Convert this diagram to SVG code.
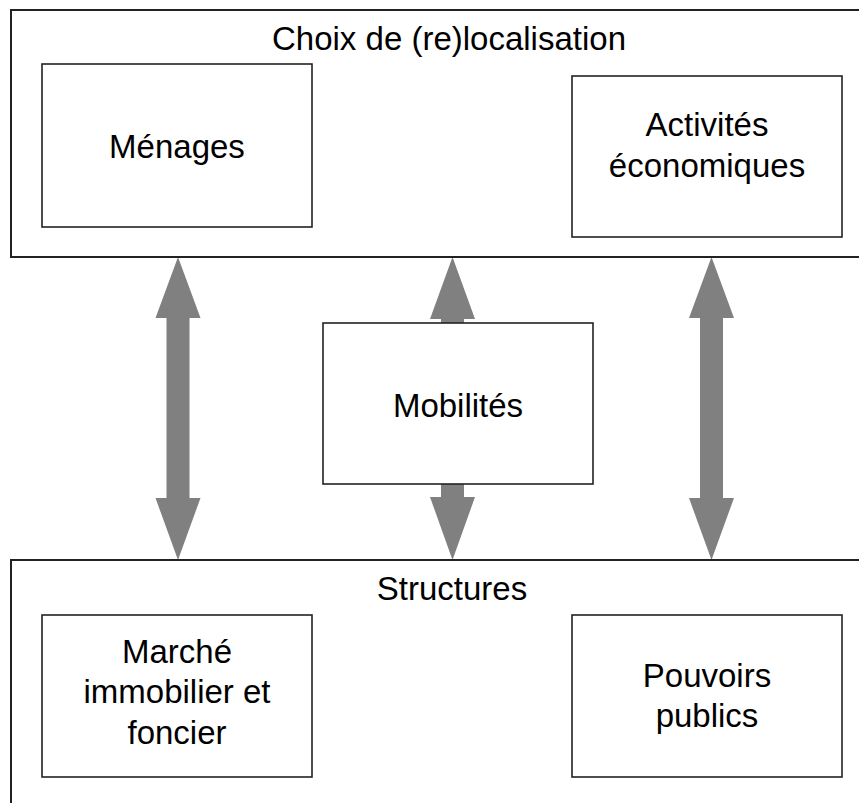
<svg xmlns="http://www.w3.org/2000/svg" width="859" height="803" viewBox="0 0 859 803">
<style>
.bg{fill:#fff}
.outer{fill:none;stroke:#222;stroke-width:2}
.box{fill:#fff;stroke:#222;stroke-width:1.6}
.arr{fill:#808080;stroke:none}
text{font-family:"Liberation Sans",Arial,sans-serif;font-size:33px;fill:#000;text-anchor:middle}
</style>
<rect class="bg" x="0" y="0" width="859" height="803"/>
<g id="connectors">
<polygon class="arr" points="178,257 200.5,318 189.5,318 189.5,498 200.5,498 178,560 155.5,498 166.5,498 166.5,318 155.5,318"/>
<polygon class="arr" points="452.5,257 475,319 464,319 464,497 475,497 452.5,560 430,497 441,497 441,319 430,319"/>
<polygon class="arr" points="711.5,257 734,318 723,318 723,498 734,498 711.5,560 689,498 700,498 700,318 689,318"/>
</g>
<g id="choix">
<rect class="outer" x="11" y="10" width="870" height="247"/>
<text x="449" y="50">Choix de (re)localisation</text>
</g>
<g id="menages">
<rect class="box" x="42" y="64" width="270" height="163"/>
<text x="177" y="158">Ménages</text>
</g>
<g id="activites">
<rect class="box" x="572" y="76" width="270" height="161"/>
<text x="707" y="136">Activités</text>
<text x="707" y="177">économiques</text>
</g>
<g id="mobilites">
<rect class="box" x="323" y="323" width="270" height="161"/>
<text x="458" y="417">Mobilités</text>
</g>
<g id="structures">
<rect class="outer" x="11" y="560" width="870" height="260"/>
<text x="452" y="600">Structures</text>
</g>
<g id="marche">
<rect class="box" x="42" y="615" width="270" height="162"/>
<text x="177" y="663">Marché</text>
<text x="177" y="703">immobilier et</text>
<text x="177" y="744">foncier</text>
</g>
<g id="pouvoirs">
<rect class="box" x="572" y="615" width="270" height="162"/>
<text x="707" y="687">Pouvoirs</text>
<text x="707" y="727">publics</text>
</g>
</svg>
